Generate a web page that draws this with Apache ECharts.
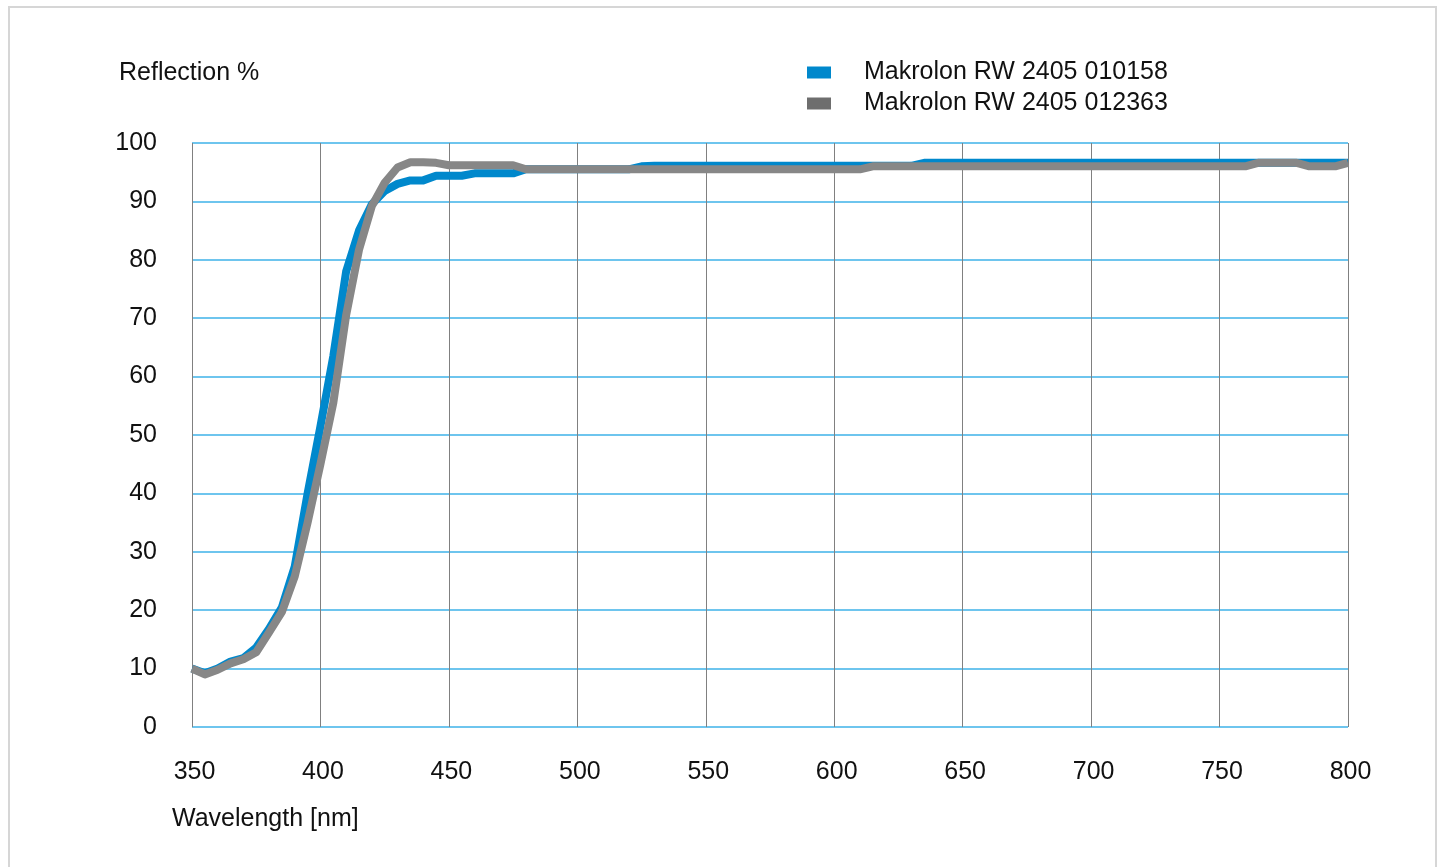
<!DOCTYPE html>
<html>
<head>
<meta charset="utf-8">
<script src="https://cdn.jsdelivr.net/npm/echarts@6/dist/echarts.min.js"></script>
<style>
  html, body { margin: 0; padding: 0; background: #ffffff; }
  #frame { position: absolute; left: 8px; top: 6px; width: 1429px; height: 880px; border: 2px solid #d6d6d6; box-sizing: border-box; }
  #chart { position: absolute; left: 0; top: 0; width: 1443px; height: 867px; }
</style>
</head>
<body>
<div id="frame"></div>
<div id="chart"></div>
<script>
const wavelengths = [350,355,360,365,370,375,380,385,390,395,400,405,410,415,420,425,430,435,440,445,
  450,455,460,465,470,475,480,485,490,495,500,505,510,515,520,525,530,535,540,545,
  550,555,560,565,570,575,580,585,590,595,600,605,610,615,620,625,630,635,640,645,
  650,655,660,665,670,675,680,685,690,695,700,705,710,715,720,725,730,735,740,745,
  750,755,760,765,770,775,780,785,790,795,800];

const seriesNames = ['Makrolon RW 2405 010158', 'Makrolon RW 2405 012363'];

const reflection010158 = [10.0,9.2,10.0,11.2,11.8,13.6,16.8,20.5,27.5,40.0,51.5,63.5,78.0,85.0,89.5,91.8,93.0,93.6,93.6,94.4,
  94.4,94.4,94.8,94.8,94.8,94.8,95.5,95.5,95.5,95.5,95.5,95.5,95.5,95.5,95.5,96.0,96.1,96.1,96.1,96.1,
  96.1,96.1,96.1,96.1,96.1,96.1,96.1,96.1,96.1,96.1,96.1,96.1,96.1,96.1,96.1,96.1,96.1,96.6,96.6,96.6,
  96.6,96.6,96.6,96.6,96.6,96.6,96.6,96.6,96.6,96.6,96.6,96.6,96.6,96.6,96.6,96.6,96.6,96.6,96.6,96.6,
  96.6,96.6,96.6,96.6,96.6,96.6,96.6,96.6,96.6,96.6,96.6];

const reflection012363 = [10.0,9.0,9.8,10.9,11.6,12.8,16.2,19.7,25.8,35.0,45.0,55.5,70.5,81.7,89.2,93.2,95.8,96.7,96.7,96.6,
  96.2,96.2,96.2,96.2,96.2,96.2,95.5,95.5,95.5,95.5,95.5,95.5,95.5,95.5,95.5,95.5,95.5,95.5,95.5,95.5,
  95.5,95.5,95.5,95.5,95.5,95.5,95.5,95.5,95.5,95.5,95.5,95.5,95.5,96.0,96.0,96.0,96.0,96.0,96.0,96.0,
  96.0,96.0,96.0,96.0,96.0,96.0,96.0,96.0,96.0,96.0,96.0,96.0,96.0,96.0,96.0,96.0,96.0,96.0,96.0,96.0,
  96.0,96.0,96.0,96.6,96.6,96.6,96.6,96.0,96.0,96.0,96.6];

const xTicks = { min: 350, max: 800, interval: 50 };
const yTicks = { min: 0, max: 100, interval: 10 };

const FONT = '"Liberation Sans", Arial, Helvetica, sans-serif';
const BLUE = '#0088cc';
const GRAY = '#878787';

function pairs(xs, ys) { return xs.map((x, i) => [x, ys[i]]); }

const chart = echarts.init(document.getElementById('chart'), null, { renderer: 'canvas' });
chart.setOption({
  animation: false,
  backgroundColor: 'transparent',
  grid: { left: 192, right: 95, top: 143, bottom: 140, containLabel: false },
  legend: {
    orient: 'vertical',
    left: 802,
    top: 55,
    icon: 'rect',
    itemWidth: 24,
    itemHeight: 12,
    itemGap: 6,
    selectedMode: false,
    textStyle: { fontFamily: FONT, fontSize: 25, lineHeight: 25, color: '#111111', padding: [0, 0, 0, 28] },
    data: [
      { name: seriesNames[0], itemStyle: { color: BLUE } },
      { name: seriesNames[1], itemStyle: { color: '#6e6e6e' } }
    ]
  },
  graphic: [
    { type: 'text', left: 119, top: 61, style: { text: 'Reflection %', font: '25px ' + FONT, fill: '#111111' } },
    { type: 'text', left: 172, top: 807, style: { text: 'Wavelength [nm]', font: '25px ' + FONT, fill: '#111111' } }
  ],
  xAxis: {
    type: 'value',
    min: xTicks.min, max: xTicks.max, interval: xTicks.interval,
    axisLine: { show: false },
    axisTick: { show: false },
    axisLabel: { fontFamily: FONT, fontSize: 25, color: '#111111', margin: 33, padding: [0, 0, 0, 5] },
    splitLine: { show: true, lineStyle: { color: '#808080', width: 1 } }
  },
  yAxis: {
    type: 'value',
    min: yTicks.min, max: yTicks.max, interval: yTicks.interval,
    axisLine: { show: false },
    axisTick: { show: false },
    axisLabel: { fontFamily: FONT, fontSize: 25, color: '#111111', margin: 35 },
    splitLine: { show: true, lineStyle: { color: '#6ec5ee', width: 2 } }
  },
  series: [
    {
      name: seriesNames[0], type: 'line', data: pairs(wavelengths, reflection010158),
      showSymbol: false, symbol: 'none', smooth: false,
      lineStyle: { color: BLUE, width: 8, join: 'round' }, itemStyle: { color: BLUE }
    },
    {
      name: seriesNames[1], type: 'line', data: pairs(wavelengths, reflection012363),
      showSymbol: false, symbol: 'none', smooth: false,
      lineStyle: { color: GRAY, width: 8, join: 'round' }, itemStyle: { color: GRAY }
    }
  ]
});
</script>
</body>
</html>
